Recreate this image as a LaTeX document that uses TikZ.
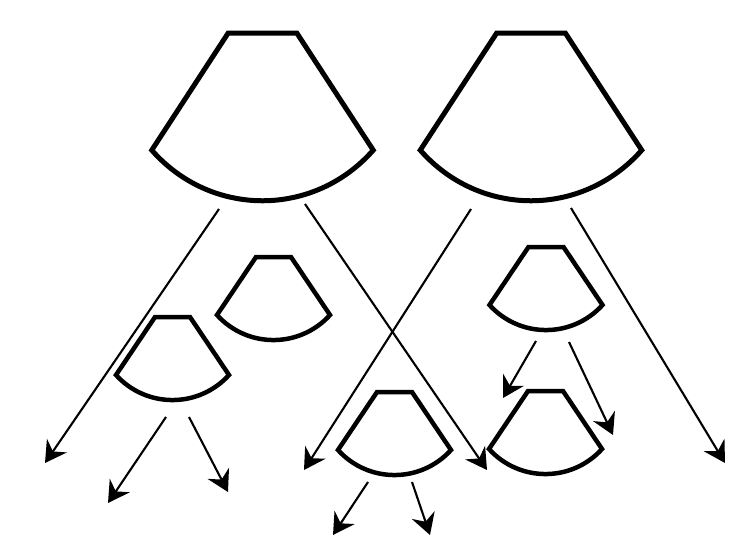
\documentclass[tikz,border=0pt]{standalone}
\usepackage{tikz}
\usetikzlibrary{arrows.meta}

\begin{document}
\begin{tikzpicture}[x=1pt,y=-1pt,
  fan/.pic={
    \draw (-17.5,0) -- (17.5,0) -- (56.5,58)
      .. controls (26.2,91.4) and (-26.2,91.4) .. (-56.5,58) -- cycle;
  },
  bigfan/.style={line width=5pt, xscale=1.96, yscale=2.02},
  smallfan/.style={line width=4.5pt},
  beam/.style={line width=2.1pt, -{Stealth[length=21pt,width=24pt,inset=7pt]}}]
\useasboundingbox (0,0) rectangle (737,544);
% large sectors
\pic[bigfan] (bigL) at (262.5,33) {fan};
\pic[bigfan] (bigR) at (531,33) {fan};
% small sectors
\pic[smallfan] (midA) at (273.5,257) {fan};
\pic[smallfan] (lowA) at (172.5,317) {fan};
\pic[smallfan] (lowB) at (394.5,392) {fan};
\pic[smallfan] (midB) at (546,247) {fan};
\pic[smallfan] (lowC) at (545.5,391) {fan};
% beam ends
\coordinate (bigL-s1) at (219,209);
\coordinate (bigL-e1) at (45,463);
\coordinate (bigL-s2) at (305,204);
\coordinate (bigL-e2) at (487,470);
\coordinate (bigR-s1) at (471,209);
\coordinate (bigR-e1) at (304,470);
\coordinate (bigR-s2) at (571,208);
\coordinate (bigR-e2) at (725,463);
\coordinate (lowA-s1) at (166,417);
\coordinate (lowA-e1) at (108,503);
\coordinate (lowA-s2) at (189,417);
\coordinate (lowA-e2) at (228,492);
\coordinate (lowB-s1) at (368,482);
\coordinate (lowB-e1) at (333,535);
\coordinate (lowB-s2) at (412,482);
\coordinate (lowB-e2) at (430,535);
\coordinate (midB-s1) at (536,341);
\coordinate (midB-e1) at (503,398);
\coordinate (midB-s2) at (569,342);
\coordinate (midB-e2) at (613,435);
% beams
\draw[beam] (bigL-s1) -- (bigL-e1);
\draw[beam] (bigL-s2) -- (bigL-e2);
\draw[beam] (bigR-s1) -- (bigR-e1);
\draw[beam] (bigR-s2) -- (bigR-e2);
\draw[beam] (lowA-s1) -- (lowA-e1);
\draw[beam] (lowA-s2) -- (lowA-e2);
\draw[beam] (lowB-s1) -- (lowB-e1);
\draw[beam] (lowB-s2) -- (lowB-e2);
\draw[beam] (midB-s1) -- (midB-e1);
\draw[beam] (midB-s2) -- (midB-e2);
\end{tikzpicture}
\end{document}
